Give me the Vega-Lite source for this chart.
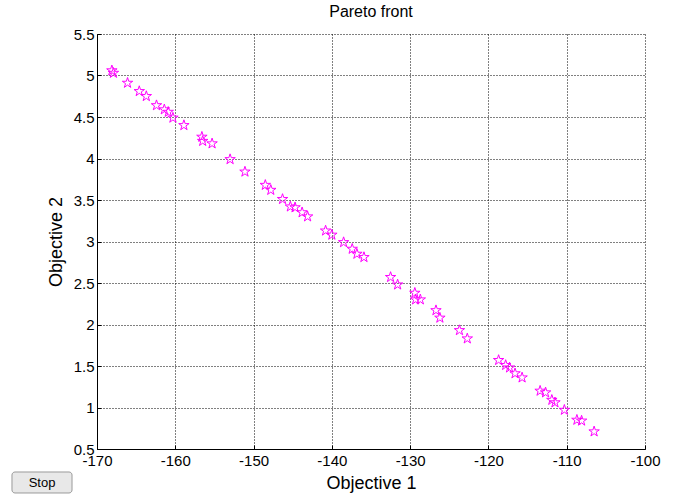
{
  "$schema": "https://vega.github.io/schema/vega-lite/v6.json",
  "width": 548,
  "height": 415,
  "autosize": {"type": "none"},
  "padding": {"left": 97, "top": 34, "right": 31, "bottom": 46},
  "background": "white",
  "title": {"text": "Pareto front", "font": "Liberation Sans", "fontSize": 16, "fontWeight": "normal", "color": "black", "anchor": "middle", "offset": 7},
  "config": {"view": {"stroke": null}},
  "data": {"values": [
    {"obj1": -168.1, "obj2": 5.06}, {"obj1": -167.9, "obj2": 5.03}, {"obj1": -166.1, "obj2": 4.91},
    {"obj1": -164.6, "obj2": 4.81}, {"obj1": -163.7, "obj2": 4.75}, {"obj1": -162.4, "obj2": 4.64},
    {"obj1": -161.4, "obj2": 4.59}, {"obj1": -160.9, "obj2": 4.56}, {"obj1": -160.3, "obj2": 4.49},
    {"obj1": -158.9, "obj2": 4.40}, {"obj1": -156.6, "obj2": 4.26}, {"obj1": -156.5, "obj2": 4.21},
    {"obj1": -155.3, "obj2": 4.18}, {"obj1": -153.0, "obj2": 3.99}, {"obj1": -151.1, "obj2": 3.84},
    {"obj1": -148.5, "obj2": 3.68}, {"obj1": -147.8, "obj2": 3.62}, {"obj1": -146.3, "obj2": 3.51},
    {"obj1": -145.3, "obj2": 3.42}, {"obj1": -144.7, "obj2": 3.41}, {"obj1": -143.8, "obj2": 3.35},
    {"obj1": -143.1, "obj2": 3.30}, {"obj1": -140.8, "obj2": 3.13}, {"obj1": -140.0, "obj2": 3.08},
    {"obj1": -138.5, "obj2": 2.99}, {"obj1": -137.4, "obj2": 2.91}, {"obj1": -136.8, "obj2": 2.85},
    {"obj1": -135.9, "obj2": 2.81}, {"obj1": -132.5, "obj2": 2.57}, {"obj1": -131.6, "obj2": 2.48},
    {"obj1": -129.4, "obj2": 2.38}, {"obj1": -129.3, "obj2": 2.30}, {"obj1": -128.7, "obj2": 2.30},
    {"obj1": -126.7, "obj2": 2.17}, {"obj1": -126.2, "obj2": 2.08}, {"obj1": -123.7, "obj2": 1.93},
    {"obj1": -122.7, "obj2": 1.83}, {"obj1": -118.7, "obj2": 1.57}, {"obj1": -117.8, "obj2": 1.51},
    {"obj1": -117.3, "obj2": 1.48}, {"obj1": -116.6, "obj2": 1.41}, {"obj1": -115.7, "obj2": 1.36},
    {"obj1": -113.4, "obj2": 1.20}, {"obj1": -112.7, "obj2": 1.18}, {"obj1": -111.9, "obj2": 1.09},
    {"obj1": -111.5, "obj2": 1.06}, {"obj1": -110.3, "obj2": 0.97}, {"obj1": -108.7, "obj2": 0.85},
    {"obj1": -108.1, "obj2": 0.84}, {"obj1": -106.5, "obj2": 0.71}
  ]},
  "layer": [
    {
      "mark": {"type": "point", "shape": "M0,-1L0.2245,-0.309L0.951,-0.309L0.363,0.118L0.588,0.809L0,0.382L-0.588,0.809L-0.363,0.118L-0.951,-0.309L-0.2245,-0.309Z", "filled": false, "stroke": "#ff00ff", "strokeWidth": 1, "size": 120, "opacity": 1},
      "encoding": {
        "x": {"field": "obj1", "type": "quantitative", "title": "Objective 1",
          "scale": {"domain": [-170, -100], "nice": false, "zero": false},
          "axis": {"values": [-170, -160, -150, -140, -130, -120, -110, -100], "labelExpr": "'' + datum.value", "grid": true, "gridColor": "black", "gridDash": [1, 2], "gridOpacity": 1, "gridWidth": 1,
            "domainColor": "black", "domainWidth": 1, "tickColor": "black", "tickSize": -4, "labelPadding": 8,
            "labelFont": "Liberation Sans", "labelFontSize": 15, "labelColor": "black", "labelFlush": false,
            "titleFont": "Liberation Sans", "titleFontSize": 18, "titleFontWeight": "normal", "titleColor": "black", "titlePadding": 6}},
        "y": {"field": "obj2", "type": "quantitative", "title": "Objective 2",
          "scale": {"domain": [0.5, 5.5], "nice": false, "zero": false},
          "axis": {"values": [0.5, 1, 1.5, 2, 2.5, 3, 3.5, 4, 4.5, 5, 5.5], "labelExpr": "'' + datum.value", "grid": true, "gridColor": "black", "gridDash": [1, 2], "gridOpacity": 1, "gridWidth": 1,
            "domainColor": "black", "domainWidth": 1, "tickColor": "black", "tickSize": -4, "labelPadding": 7,
            "labelFont": "Liberation Sans", "labelFontSize": 15, "labelColor": "black", "labelFlush": false,
            "titleFont": "Liberation Sans", "titleFontSize": 18, "titleFontWeight": "normal", "titleColor": "black", "titlePadding": 8}}
      }
    },
    {
      "data": {"values": [{"label": "Stop"}]},
      "mark": {"type": "rect", "fill": "#e8e8e8", "stroke": "#9a9a9a", "strokeWidth": 1, "cornerRadius": 3},
      "encoding": {
        "x": {"datum": -180.86, "type": "quantitative"},
        "x2": {"datum": -173.19},
        "y": {"datum": 0.223, "type": "quantitative"},
        "y2": {"datum": -0.03}
      }
    },
    {
      "data": {"values": [{"label": "Stop"}]},
      "mark": {"type": "text", "font": "Liberation Sans", "fontSize": 13, "color": "black", "align": "center", "baseline": "middle"},
      "encoding": {
        "x": {"datum": -177.02, "type": "quantitative"},
        "y": {"datum": 0.096, "type": "quantitative"},
        "text": {"field": "label"}
      }
    }
  ]
}
